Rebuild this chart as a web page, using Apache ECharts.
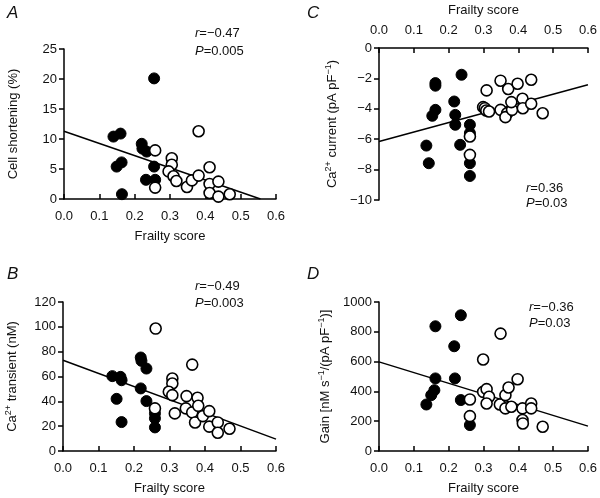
<!DOCTYPE html>
<html>
<head>
<meta charset="utf-8">
<script src="https://cdn.jsdelivr.net/npm/echarts@6/dist/echarts.min.js"></script>
<style>html,body{margin:0;padding:0;background:#fff;}#c{width:600px;height:498px;}</style>
</head>
<body>
<div id="c"></div>
<script>
// Panel A: cell shortening (%)
var aFilled = [[0.255,20.1],[0.14,10.4],[0.16,10.9],[0.149,5.4],[0.163,6.1],[0.164,0.8],[0.22,9.2],[0.222,8.4],[0.234,7.9],[0.232,3.2],[0.255,5.4],[0.258,3.2]];
var aOpen = [[0.258,8.1],[0.258,1.9],[0.305,6.8],[0.305,5.7],[0.296,4.6],[0.31,3.8],[0.318,3.0],[0.348,2.0],[0.362,3.1],[0.381,3.9],[0.381,11.3],[0.412,5.3],[0.412,2.5],[0.412,1.0],[0.437,2.9],[0.437,0.4],[0.469,0.8]];
var aFit = [[0,11.3],[0.556,0]];
// Panel B: Ca2+ transient (nM)
var bFilled = [[0.139,60.3],[0.162,59.7],[0.165,57],[0.151,42],[0.165,23.3],[0.219,75.3],[0.221,72.6],[0.235,66.4],[0.219,50.4],[0.235,40.2],[0.259,30.3],[0.259,26.3],[0.259,19]];
var bOpen = [[0.261,98.6],[0.259,34.3],[0.364,69.6],[0.308,58.4],[0.308,54.4],[0.298,47.7],[0.308,45],[0.315,30.3],[0.348,44.2],[0.346,34.3],[0.364,31.1],[0.379,42.9],[0.381,36.4],[0.372,23],[0.394,28.1],[0.412,32.1],[0.412,19.6],[0.436,23],[0.436,14.7],[0.469,17.9]];
var bFit = [[0,73.1],[0.6,9.6]];
// Panel C: Ca2+ current (pA pF-1)
var cFilled = [[0.136,-6.42],[0.143,-7.58],[0.153,-4.46],[0.162,-4.07],[0.162,-2.31],[0.162,-2.48],[0.216,-3.52],[0.219,-4.40],[0.219,-5.05],[0.237,-1.76],[0.233,-6.37],[0.261,-5.05],[0.261,-5.6],[0.261,-7.58],[0.261,-8.42]];
var cOpen = [[0.261,-5.82],[0.261,-7.03],[0.309,-2.79],[0.299,-3.89],[0.304,-3.96],[0.308,-4.11],[0.316,-4.18],[0.349,-2.15],[0.349,-4.07],[0.371,-2.70],[0.368,-4.29],[0.363,-4.55],[0.382,-4.07],[0.38,-3.56],[0.398,-2.35],[0.412,-3.34],[0.413,-3.96],[0.437,-2.09],[0.437,-3.67],[0.47,-4.29]];
var cFit = [[0,-6.15],[0.6,-2.42]];
// Panel D: Gain
var dFilled = [[0.136,312],[0.150,375],[0.159,408],[0.162,487],[0.162,837],[0.216,703],[0.218,487],[0.235,911],[0.235,342],[0.261,174]];
var dOpen = [[0.261,346],[0.261,234],[0.299,614],[0.349,788],[0.299,397],[0.309,415],[0.316,364],[0.309,319],[0.347,312],[0.363,286],[0.363,375],[0.372,426],[0.38,297],[0.398,482],[0.412,286],[0.412,208],[0.413,185],[0.437,319],[0.437,286],[0.47,163]];
var dFit = [[0,598],[0.6,167]];
// ticks / labels
var xMin = 0, xMax = 0.6, xStep = 0.1;
var aY = [0, 25, 5], bY = [0, 120, 20], cY = [-10, 0, 2], dY = [0, 1000, 200];
var stats = [['A','−0.47','0.005'],['B','−0.49','0.003'],['C','0.36','0.03'],['D','−0.36','0.03']];

var FF = 'Liberation Sans, Arial, Helvetica, sans-serif';
var chart = echarts.init(document.getElementById('c'), null, {renderer:'canvas'});
var axLine = {lineStyle:{color:'#000', width:1.5}};
var tickOut = {show:true, inside:false, length:5, lineStyle:{color:'#000', width:1.5}};
var tickIn = {show:true, inside:true, length:5, lineStyle:{color:'#000', width:1.5}};
var lbl = {color:'#111', fontSize:13, fontFamily:FF};
function minus(v){ return String(v).replace('-', '−'); }
function xAx(grid, pos){
  return {gridIndex:grid, type:'value', min:xMin, max:xMax, interval:xStep, position:pos,
    name:'Frailty score', nameLocation:'middle', nameGap: 31,
    nameTextStyle:{color:'#111', fontSize:13, fontFamily:FF},
    axisLine:axLine, axisTick:tickIn, splitLine:{show:false},
    axisLabel:Object.assign({margin:11, formatter:function(v){return v.toFixed(1);}}, lbl)};
}
var rich = {
  n:{fontSize:13, fontFamily:FF, color:'#111', lineHeight:17},
  s:{fontSize:9, fontFamily:FF, color:'#111', lineHeight:10, verticalAlign:'top'}
};
function yAx(grid, r, name, gap){
  return {gridIndex:grid, type:'value', min:r[0], max:r[1], interval:r[2],
    name:name, nameLocation:'middle', nameGap:gap,
    nameTextStyle:{color:'#111', fontSize:13, fontFamily:FF, rich:rich},
    axisLine:Object.assign({onZero:false}, axLine), axisTick:tickOut, splitLine:{show:false},
    axisLabel:Object.assign({margin:7, formatter:minus}, lbl)};
}
function pts(i, filled, open, fit){
  return [
    {type:'line', xAxisIndex:i, yAxisIndex:i, data:fit, showSymbol:false, symbol:'none', lineStyle:{color:'#000', width:1.5}, z:1, silent:true},
    {type:'scatter', xAxisIndex:i, yAxisIndex:i, data:filled, symbol:'circle', symbolSize:11, itemStyle:{color:'#000', borderColor:'#000', borderWidth:1, opacity:1}, z:2},
    {type:'scatter', xAxisIndex:i, yAxisIndex:i, data:open, symbol:'circle', symbolSize:11, itemStyle:{color:'#fff', borderColor:'#000', borderWidth:1.6, opacity:1}, z:3}
  ];
}
var txtPos = {A:[[7,5],[195,27],[195,45]], B:[[7,266],[195,280],[195,297]], C:[[307,5],[526,182],[526,197]], D:[[307,266],[529,301],[529,317]]};
var graphics = [];
stats.forEach(function(s){
  var p = txtPos[s[0]];
  graphics.push({type:'text', left:p[0][0], top:p[0][1], style:{text:s[0], font:'italic 17px '+FF, fill:'#111'}});
  graphics.push({type:'text', left:p[1][0], top:p[1][1], style:{text:'{i|r}{n|=' + s[1] + '}', rich:{i:{font:'italic 13px '+FF, fill:'#111'}, n:{font:'13px '+FF, fill:'#111'}}}});
  graphics.push({type:'text', left:p[2][0], top:p[2][1], style:{text:'{i|P}{n|=' + s[2] + '}', rich:{i:{font:'italic 13px '+FF, fill:'#111'}, n:{font:'13px '+FF, fill:'#111'}}}});
});

chart.setOption({
  animation:false,
  backgroundColor:'#fff',
  grid:[
    {left:64, top:49, width:212, height:150},
    {left:63, top:302, width:213, height:149},
    {left:379, top:48, width:211, height:152},
    {left:379, top:302, width:211, height:149}
  ],
  xAxis:[xAx(0,'bottom'), xAx(1,'bottom'), xAx(2,'top'), xAx(3,'bottom')],
  yAxis:[
    yAx(0, aY, '{n|Cell shortening (%)}', 42),
    yAx(1, bY, '{n|Ca}{s|2+}{n| transient (nM)}', 42),
    yAx(2, cY, '{n|Ca}{s|2+}{n| current (pA pF}{s|−1}{n|)}', 38),
    yAx(3, dY, '{n|Gain [nM s}{s|−1}{n|/(pA pF}{s|−1}{n|)]}', 45)
  ],
  series: [].concat(pts(0,aFilled,aOpen,aFit), pts(1,bFilled,bOpen,bFit), pts(2,cFilled,cOpen,cFit), pts(3,dFilled,dOpen,dFit)),
  graphic: graphics
});
</script>
</body>
</html>
